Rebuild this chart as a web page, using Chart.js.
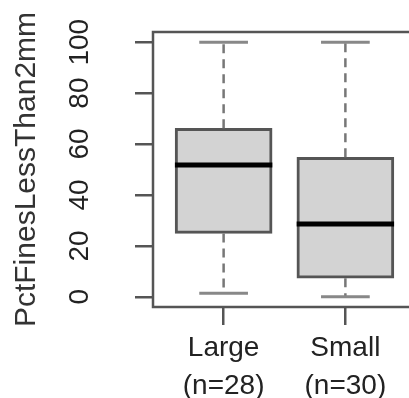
<!DOCTYPE html>
<html>
<head>
<meta charset="utf-8">
<script src="https://cdn.jsdelivr.net/npm/chart.js@4"></script>
<style>
  body { margin: 0; overflow: hidden; background: #fff; }
  #wrap { width: 420px; height: 398px; }
</style>
</head>
<body>
<div id="wrap"><canvas id="myChart" width="420" height="398"></canvas></div>
<script>
// boxplot values
const categories = ["Large", "Small"];
const counts = [28, 30];
const whiskerLow = [1.4, 0];
const q1 = [24.9, 7.3];
const median = [51.8, 28.6];
const q3 = [66.2, 54.8];
const whiskerHigh = [100, 100];
const yTicks = [0, 20, 40, 60, 80, 100];

const ink = "#222";
const lineCol = "#555";

// whiskers, staples, medians and the frame, drawn through the scales
const boxExtras = {
  id: "boxExtras",
  afterDatasetsDraw(chart) {
    const ctx = chart.ctx;
    const xs = chart.scales.x, ys = chart.scales.y;
    const area = chart.chartArea;
    ctx.save();
    for (let i = 0; i < categories.length; i++) {
      const cx = xs.getPixelForValue(i + 1);
      const capL = xs.getPixelForValue(i + 1 - 0.2), capR = xs.getPixelForValue(i + 1 + 0.2);
      const boxL = xs.getPixelForValue(i + 1 - 0.4), boxR = xs.getPixelForValue(i + 1 + 0.4);
      // dashed whiskers
      ctx.strokeStyle = "#777";
      ctx.lineWidth = 2.5;
      ctx.setLineDash([9, 6]);
      ctx.beginPath();
      ctx.moveTo(cx, ys.getPixelForValue(q3[i]));
      ctx.lineTo(cx, ys.getPixelForValue(whiskerHigh[i]));
      ctx.moveTo(cx, ys.getPixelForValue(q1[i]));
      ctx.lineTo(cx, ys.getPixelForValue(whiskerLow[i]));
      ctx.stroke();
      // staples
      ctx.setLineDash([]);
      ctx.strokeStyle = "#888";
      ctx.lineWidth = 3;
      ctx.beginPath();
      ctx.moveTo(capL, ys.getPixelForValue(whiskerHigh[i]));
      ctx.lineTo(capR, ys.getPixelForValue(whiskerHigh[i]));
      ctx.moveTo(capL, ys.getPixelForValue(whiskerLow[i]));
      ctx.lineTo(capR, ys.getPixelForValue(whiskerLow[i]));
      ctx.stroke();
      // median
      ctx.strokeStyle = "#000";
      ctx.lineWidth = 5;
      ctx.beginPath();
      ctx.moveTo(boxL, ys.getPixelForValue(median[i]));
      ctx.lineTo(boxR, ys.getPixelForValue(median[i]));
      ctx.stroke();
    }
    // frame round the plot
    ctx.strokeStyle = lineCol;
    ctx.lineWidth = 2.5;
    ctx.strokeRect(area.left, area.top, area.right - area.left, area.bottom - area.top);
    ctx.restore();
  }
};

const myChart = new Chart("myChart", {
  type: "bar",
  data: {
    datasets: [{
      label: "PctFinesLessThan2mm",
      data: categories.map((c, i) => ({ x: i + 1, y: [q1[i], q3[i]] })),
      backgroundColor: "#d3d3d3",
      borderColor: lineCol,
      borderWidth: 3,
      borderSkipped: false,
      barThickness: 97
    }]
  },
  plugins: [boxExtras],
  options: {
    responsive: false,
    animation: false,
    layout: { padding: { top: 32, right: 4, left: 0, bottom: 0 } },
    plugins: {
      legend: { display: false },
      tooltip: { enabled: false }
    },
    scales: {
      x: {
        type: "linear",
        min: 0.42,
        max: 2.58,
        offset: false,
        border: { display: false },
        grid: { offset: false, drawOnChartArea: false, drawTicks: true, tickLength: 18, tickColor: lineCol, lineWidth: 2.5 },
        afterBuildTicks: s => { s.ticks = categories.map((c, i) => ({ value: i + 1 })); },
        afterFit: s => { s.height = 91; s.paddingLeft = 0; s.paddingRight = 0; },
        ticks: {
          autoSkip: false,
          maxRotation: 0,
          padding: 4,
          color: ink,
          font: { family: "Liberation Sans, Arial, sans-serif", size: 28, lineHeight: 1.36 },
          callback: v => [categories[v - 1], "(n=" + counts[v - 1] + ")"]
        }
      },
      y: {
        min: -4,
        max: 104,
        border: { display: false },
        grid: { drawOnChartArea: false, drawTicks: true, tickLength: 18, tickColor: lineCol, lineWidth: 2.5 },
        afterBuildTicks: s => { s.ticks = yTicks.map(v => ({ value: v })); },
        afterFit: s => { s.width = 153; s.paddingTop = 0; s.paddingBottom = 0; },
        ticks: {
          minRotation: 90,
          maxRotation: 90,
          crossAlign: "center",
          padding: 31,
          color: ink,
          font: { family: "Liberation Sans, Arial, sans-serif", size: 28 }
        },
        title: {
          display: true,
          text: "PctFinesLessThan2mm",
          color: "#333",
          padding: { top: 9, bottom: 0 },
          font: { family: "Liberation Sans, Arial, sans-serif", size: 30 }
        }
      }
    }
  }
});
</script>
</body>
</html>
